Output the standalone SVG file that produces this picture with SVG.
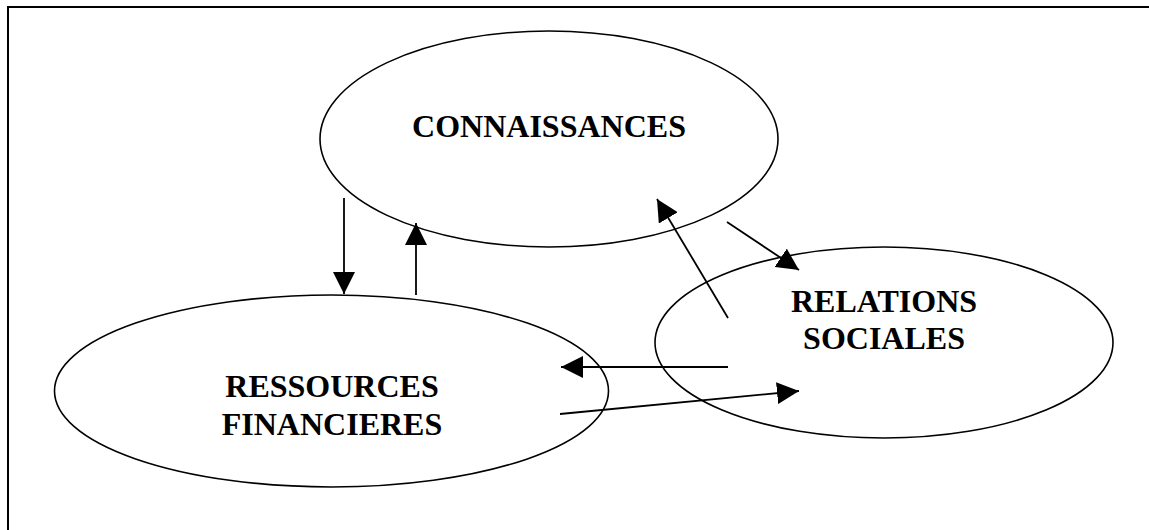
<svg xmlns="http://www.w3.org/2000/svg" width="1149" height="530" viewBox="0 0 1149 530">
<style>
.node ellipse{fill:none;stroke:#000;stroke-width:1.6}
.lbl{font-family:"Liberation Serif","Times New Roman",serif;font-weight:bold;font-size:32px;fill:#000;text-anchor:middle}
.conn line{stroke:#000;stroke-width:1.8;marker-end:url(#ah)}
</style>
<defs>
<marker id="ah" markerUnits="userSpaceOnUse" markerWidth="22" markerHeight="22" refX="20" refY="10" orient="auto" viewBox="0 0 20 20">
<path d="M0,0 L20,10 L0,20 z" fill="#000"/>
</marker>
</defs>
<rect width="1149" height="530" fill="#fff"/>
<path d="M8,530 L8,7 L1149,7" fill="none" stroke="#000" stroke-width="2"/>
<g id="connaissances" class="node">
<ellipse cx="549" cy="139" rx="229" ry="108"/>
<text class="lbl" x="549" y="137">CONNAISSANCES</text>
</g>
<g id="ressources" class="node">
<ellipse cx="331.5" cy="391" rx="277" ry="96"/>
<text class="lbl" x="332" y="397">RESSOURCES</text>
<text class="lbl" x="332" y="435">FINANCIERES</text>
</g>
<g id="relations" class="node">
<ellipse cx="884" cy="342.5" rx="229" ry="95.5"/>
<text class="lbl" x="884" y="312">RELATIONS</text>
<text class="lbl" x="884" y="349">SOCIALES</text>
</g>
<g id="connectors" class="conn">
<line x1="344" y1="198" x2="344" y2="294"/>
<line x1="416" y1="295" x2="416" y2="223"/>
<line x1="728" y1="318" x2="657" y2="199"/>
<line x1="727" y1="222" x2="799" y2="270"/>
<line x1="728" y1="367" x2="561" y2="367"/>
<line x1="560" y1="414" x2="799" y2="391"/>
</g>
</svg>
